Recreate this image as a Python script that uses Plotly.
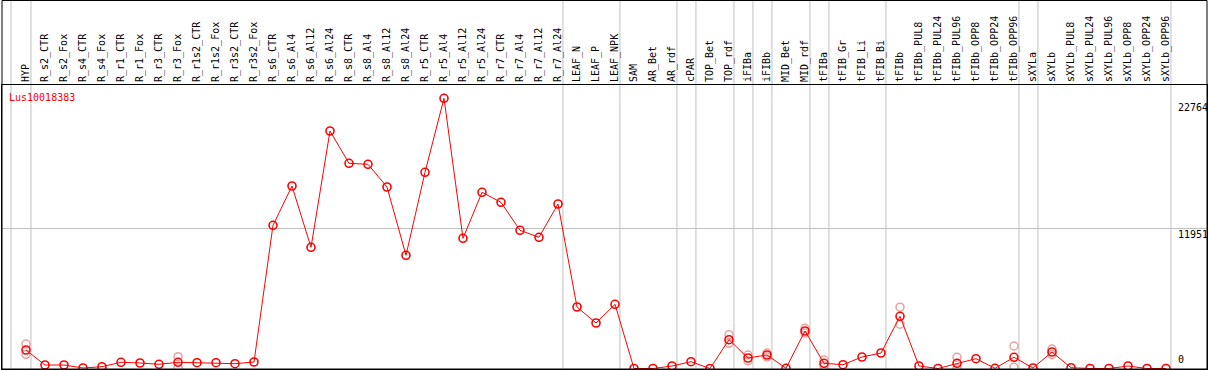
import plotly.graph_objects as go

categories = ["HYP", "R_s2_CTR", "R_s2_Fox", "R_s4_CTR", "R_s4_Fox", "R_r1_CTR", "R_r1_Fox",
              "R_r3_CTR", "R_r3_Fox", "R_r1s2_CTR", "R_r1s2_Fox", "R_r3s2_CTR", "R_r3s2_Fox",
              "R_s6_CTR", "R_s6_Al4", "R_s6_Al12", "R_s6_Al24", "R_s8_CTR", "R_s8_Al4", "R_s8_Al12",
              "R_s8_Al24", "R_r5_CTR", "R_r5_Al4", "R_r5_Al12", "R_r5_Al24", "R_r7_CTR", "R_r7_Al4",
              "R_r7_Al12", "R_r7_Al24", "LEAF_N", "LEAF_P", "LEAF_NPK", "SAM", "AR_Bet", "AR_rdf",
              "cPAR", "TOP_Bet", "TOP_rdf", "iFIBa", "iFIBb", "MID_Bet", "MID_rdf", "tFIBa",
              "tFIB_Gr", "tFIB_Li", "tFIB_Bi", "tFIBb", "tFIBb_PUL8", "tFIBb_PUL24", "tFIBb_PUL96",
              "tFIBb_OPP8", "tFIBb_OPP24", "tFIBb_OPP96", "sXYLa", "sXYLb", "sXYLb_PUL8",
              "sXYLb_PUL24", "sXYLb_PUL96", "sXYLb_OPP8", "sXYLb_OPP24", "sXYLb_OPP96"]

mean_values = [1577, 298, 298, 43, 153, 529, 469, 358, 529, 494, 494, 409, 554,
               12208, 15558, 10332, 20247, 17494, 17408, 15473, 9650, 16726, 23035, 11100,
               15021, 14169, 11782, 11185, 14024, 5243, 3879, 5473, 0, 0, 213,
               580, 0, 2455, 895, 1151, 17, 3197, 443,
               324, 980, 1321, 4450, 213, 0, 443,
               835, 17, 955, 43, 1407, 68,
               0, 0, 213, 0, 0]

rep_a = [2089, None, None, None, None, None, None, None, 1006, None, None, None, None,
         None, None, None, None, None, None, None, None, None, None, None, None, None, None,
         None, None, None, None, None, None, None, None, None, None, 2882, 1150, 1321, None,
         3427, 725, None, None, None, 5226, None, None, 955, None, None, 1918, None, 1662,
         None, None, None, None, None, None]
rep_b = [1211, None, None, None, None, None, None, None, 68, None, None, None, None,
         None, None, None, None, None, None, None, None, None, None, None, None, None, None,
         None, None, None, None, None, None, None, None, None, None, 2148, 640, 980, None,
         3026, 213, None, None, None, 3777, None, None, 0, None, None, 102, None, 1176,
         None, None, None, None, None, None]

# indices of last category in each group (vertical separators)
group_ends = [0, 28, 31, 34, 35, 37, 38, 39, 41, 42, 45, 52, 53, 60]

y_ticks = [0, 11951, 22764]
y_ticktext = ["0", "11951", "22764"]
gene = "Lus10018383"

xs = list(range(len(categories)))
rep_x = []
rep_y = []
for i in xs:
    for r in (rep_a[i], rep_b[i]):
        if r is not None:
            rep_x.append(i)
            rep_y.append(r)

mono = "DejaVu Sans Mono"
fig = go.Figure()
fig.add_trace(go.Scatter(x=rep_x, y=rep_y, mode="markers",
                         marker=dict(symbol="circle-open", size=8, color="#e8a0a0",
                                     line=dict(width=1.5, color="#e8a0a0")),
                         hoverinfo="skip", showlegend=False))
fig.add_trace(go.Scatter(x=xs, y=mean_values, mode="lines+markers",
                         line=dict(color="#ff0000", width=1),
                         marker=dict(symbol="circle-open", size=8, color="#ff0000",
                                     line=dict(width=1.6, color="#ff0000")),
                         showlegend=False))

shapes = []
sep_positions = [-0.79] + [g + 0.26 for g in group_ends]
for sx in sep_positions:
    shapes.append(dict(type="line", xref="x", yref="paper", x0=sx, x1=sx, y0=0, y1=1.2993,
                       line=dict(color="#c0c0c0", width=1), layer="below"))
shapes.append(dict(type="rect", xref="paper", yref="paper", x0=0, x1=1, y0=0, y1=1.2975,
                   line=dict(color="black", width=1), fillcolor="rgba(0,0,0,0)"))

annotations = [dict(text=gene, xref="paper", yref="paper", x=0.0045, y=0.982,
                    xanchor="left", yanchor="top", showarrow=False,
                    font=dict(family=mono, size=10, color="#ff0000"))]
for v, t in zip(y_ticks, y_ticktext):
    annotations.append(dict(text=t, xref="paper", yref="y", x=0.9755, y=v,
                            xanchor="left", yanchor="bottom" if v == 0 else "top",
                            showarrow=False, borderpad=0,
                            yshift=3 if v == 0 else 0,
                            font=dict(family=mono, size=10, color="black")))

fig.update_layout(
    width=1209, height=370,
    margin=dict(l=2, r=2, t=85, b=1, pad=0),
    plot_bgcolor="white", paper_bgcolor="white",
    shapes=shapes, annotations=annotations,
    xaxis=dict(range=[-1.263, 62.158], tickmode="array", tickvals=xs, ticktext=categories,
               side="top", tickangle=-90, ticks="", showgrid=False, zeroline=False,
               showline=True, mirror=True, linecolor="black", linewidth=1, automargin=False,
               tickfont=dict(family=mono, size=10, color="black")),
    yaxis=dict(range=[-43, 24169], tickmode="array", tickvals=[y_ticks[1]],
               showticklabels=False, ticks="", showgrid=True, gridcolor="#c0c0c0",
               gridwidth=1, zeroline=False, showline=True, mirror=True, automargin=False,
               linecolor="black", linewidth=1, side="right"),
)

fig.write_html("out.html", config={"displayModeBar": False},
               post_script="document.body.style.margin='0';document.body.style.overflow='hidden';")
